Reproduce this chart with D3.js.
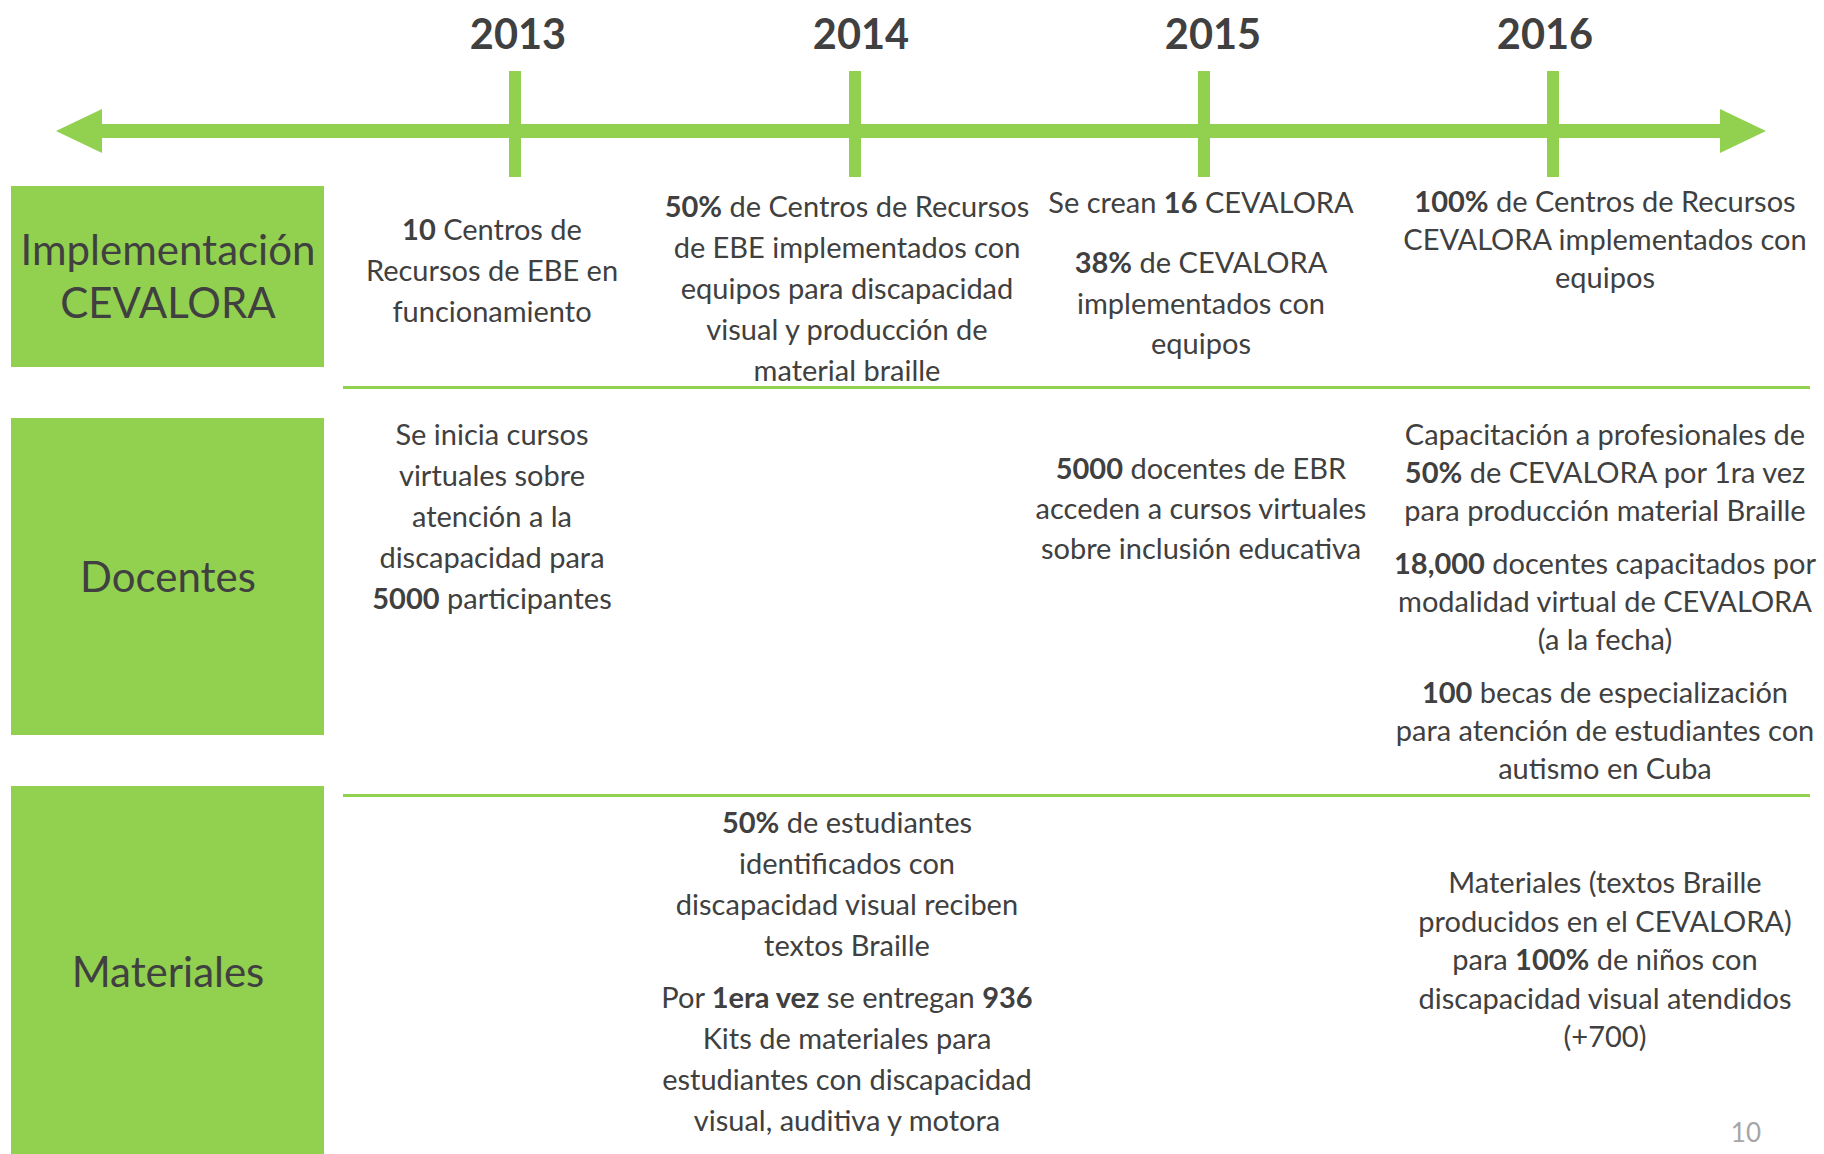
<!DOCTYPE html>
<html>
<head>
<meta charset="utf-8">
<script src="https://cdn.jsdelivr.net/npm/d3@7"></script>
<style>
  body { margin: 0; background: #fff; }
  svg { display: block; }
</style>
</head>
<body>
<div id="timeline"></div>
<script>
// ---- data ----
var years = [2013, 2014, 2015, 2016];

var rowLabels = [
  ["Implementación", "CEVALORA"],
  ["Docentes"],
  ["Materiales"]
];

// each cell: year + paragraphs (list of lines), **x** = bold
var implementacionCells = [
  {year: 2013, paras: [["**10** Centros de", "Recursos de EBE en", "funcionamiento"]]},
  {year: 2014, paras: [["**50%** de Centros de Recursos", "de EBE implementados con", "equipos para discapacidad", "visual y producción de", "material braille"]]},
  {year: 2015, paras: [["Se crean **16** CEVALORA"], ["**38%** de CEVALORA", "implementados con", "equipos"]]},
  {year: 2016, paras: [["**100%** de Centros de Recursos", "CEVALORA implementados con", "equipos"]]}
];

var docentesCells = [
  {year: 2013, paras: [["Se inicia cursos", "virtuales sobre", "atención a la", "discapacidad para", "**5000** participantes"]]},
  {year: 2015, paras: [["**5000** docentes de EBR", "acceden a cursos virtuales", "sobre inclusión educativa"]]},
  {year: 2016, paras: [
    ["Capacitación a profesionales de", "**50%** de CEVALORA por 1ra vez", "para producción material Braille"],
    ["**18,000** docentes capacitados por", "modalidad virtual de CEVALORA", "(a la fecha)"],
    ["**100** becas de especialización", "para atención de estudiantes con", "autismo en Cuba"]
  ]}
];

var materialesCells = [
  {year: 2014, paras: [
    ["**50%** de estudiantes", "identificados con", "discapacidad visual reciben", "textos Braille"],
    ["Por **1era vez** se entregan **936**", "Kits de materiales para", "estudiantes con discapacidad", "visual, auditiva y motora"]
  ]},
  {year: 2016, paras: [["Materiales (textos Braille", "producidos en el CEVALORA)", "para **100%** de niños con", "discapacidad visual atendidos", "(+700)"]]}
];

var pageNumber = "10";

// ---- layout ----
var width = 1824, height = 1154;
var green = "#92D050", textColor = "#404040";
var font = "Lato, 'Open Sans', sans-serif";

var svg = d3.select("#timeline")
  .append("svg")
    .attr("width", width)
    .attr("height", height);

// year -> tick position (ticks are hand placed, not evenly spaced)
var x = d3.scaleOrdinal()
  .domain(years)
  .range([515, 855, 1204, 1553]);

// year -> year label centre
var xLabel = d3.scaleOrdinal()
  .domain(years)
  .range([518, 861, 1213, 1545]);

// text column centres per year
var colCenter = d3.scaleOrdinal()
  .domain(years)
  .range([492, 847, 1201, 1605]);

// row bands
var rows = [
  {top: 186, bottom: 367, labelY: [265, 318], cells: implementacionCells,
   fmt: {2013: [240, 41, 0], 2014: [217, 41, 0], 2015: [213, 40.5, 19.5], 2016: [212, 38, 0]}},
  {top: 418, bottom: 735, labelY: [592], cells: docentesCells,
   fmt: {2013: [445, 41, 0], 2015: [479, 40, 0], 2016: [445, 38, 15]}},
  {top: 786, bottom: 1160, labelY: [987], cells: materialesCells,
   fmt: {2014: [833, 41, 11], 2016: [893, 38.5, 0]}}
];
var separators = [387.5, 795.5];

// ---- arrow axis ----
var axisY = 131, shaft = 7, headLen = 46, headHalf = 22;
var leftTip = 56, rightTip = 1766;
var arrow = d3.path();
arrow.moveTo(leftTip, axisY);
arrow.lineTo(leftTip + headLen, axisY - headHalf);
arrow.lineTo(leftTip + headLen, axisY - shaft);
arrow.lineTo(rightTip - headLen, axisY - shaft);
arrow.lineTo(rightTip - headLen, axisY - headHalf);
arrow.lineTo(rightTip, axisY);
arrow.lineTo(rightTip - headLen, axisY + headHalf);
arrow.lineTo(rightTip - headLen, axisY + shaft);
arrow.lineTo(leftTip + headLen, axisY + shaft);
arrow.lineTo(leftTip + headLen, axisY + headHalf);
arrow.closePath();

svg.append("path")
  .attr("d", arrow.toString())
  .attr("fill", green);

svg.selectAll(".tick")
  .data(years)
  .enter()
  .append("rect")
    .attr("class", "tick")
    .attr("x", function(d) { return x(d) - 6; })
    .attr("y", 71)
    .attr("width", 12)
    .attr("height", 106)
    .attr("fill", green);

svg.selectAll(".year")
  .data(years)
  .enter()
  .append("text")
    .attr("class", "year")
    .attr("x", function(d) { return xLabel(d); })
    .attr("y", 49)
    .attr("text-anchor", "middle")
    .style("font-family", font)
    .style("font-weight", "bold")
    .style("font-size", "41.5px")
    .style("fill", textColor)
    .text(function(d) { return d; });

// ---- row label boxes ----
rows.forEach(function(r, i) {
  svg.append("rect")
    .attr("x", 11)
    .attr("y", r.top)
    .attr("width", 313)
    .attr("height", r.bottom - r.top)
    .attr("fill", green);

  rowLabels[i].forEach(function(line, j) {
    svg.append("text")
      .attr("x", 168)
      .attr("y", r.labelY[j])
      .attr("text-anchor", "middle")
      .style("font-family", font)
      .style("font-size", "42px")
      .style("fill", textColor)
      .text(line);
  });
});

svg.selectAll(".sep")
  .data(separators)
  .enter()
  .append("line")
    .attr("class", "sep")
    .attr("x1", 343)
    .attr("x2", 1810)
    .attr("y1", function(d) { return d; })
    .attr("y2", function(d) { return d; })
    .attr("stroke", green)
    .attr("stroke-width", 3);

// ---- cell texts ----
function addLine(yPos, cx, line) {
  var t = svg.append("text")
    .attr("x", cx)
    .attr("y", yPos)
    .attr("text-anchor", "middle")
    .style("font-family", font)
    .style("font-size", "29px")
    .style("fill", textColor);
  line.split("**").forEach(function(part, k) {
    if (part === "") return;
    t.append("tspan")
      .style("font-weight", k % 2 ? "bold" : "normal")
      .text(part);
  });
}

rows.forEach(function(r) {
  r.cells.forEach(function(c) {
    var f = r.fmt[c.year];
    var yPos = f[0];
    c.paras.forEach(function(p, pi) {
      if (pi > 0) yPos += f[2];
      p.forEach(function(line) {
        addLine(yPos, colCenter(c.year), line);
        yPos += f[1];
      });
    });
  });
});

// page number
svg.append("text")
  .attr("x", 1761)
  .attr("y", 1142)
  .attr("text-anchor", "end")
  .style("font-family", font)
  .style("font-size", "26px")
  .style("fill", "#A6A6A6")
  .text(pageNumber);
</script>
</body>
</html>
